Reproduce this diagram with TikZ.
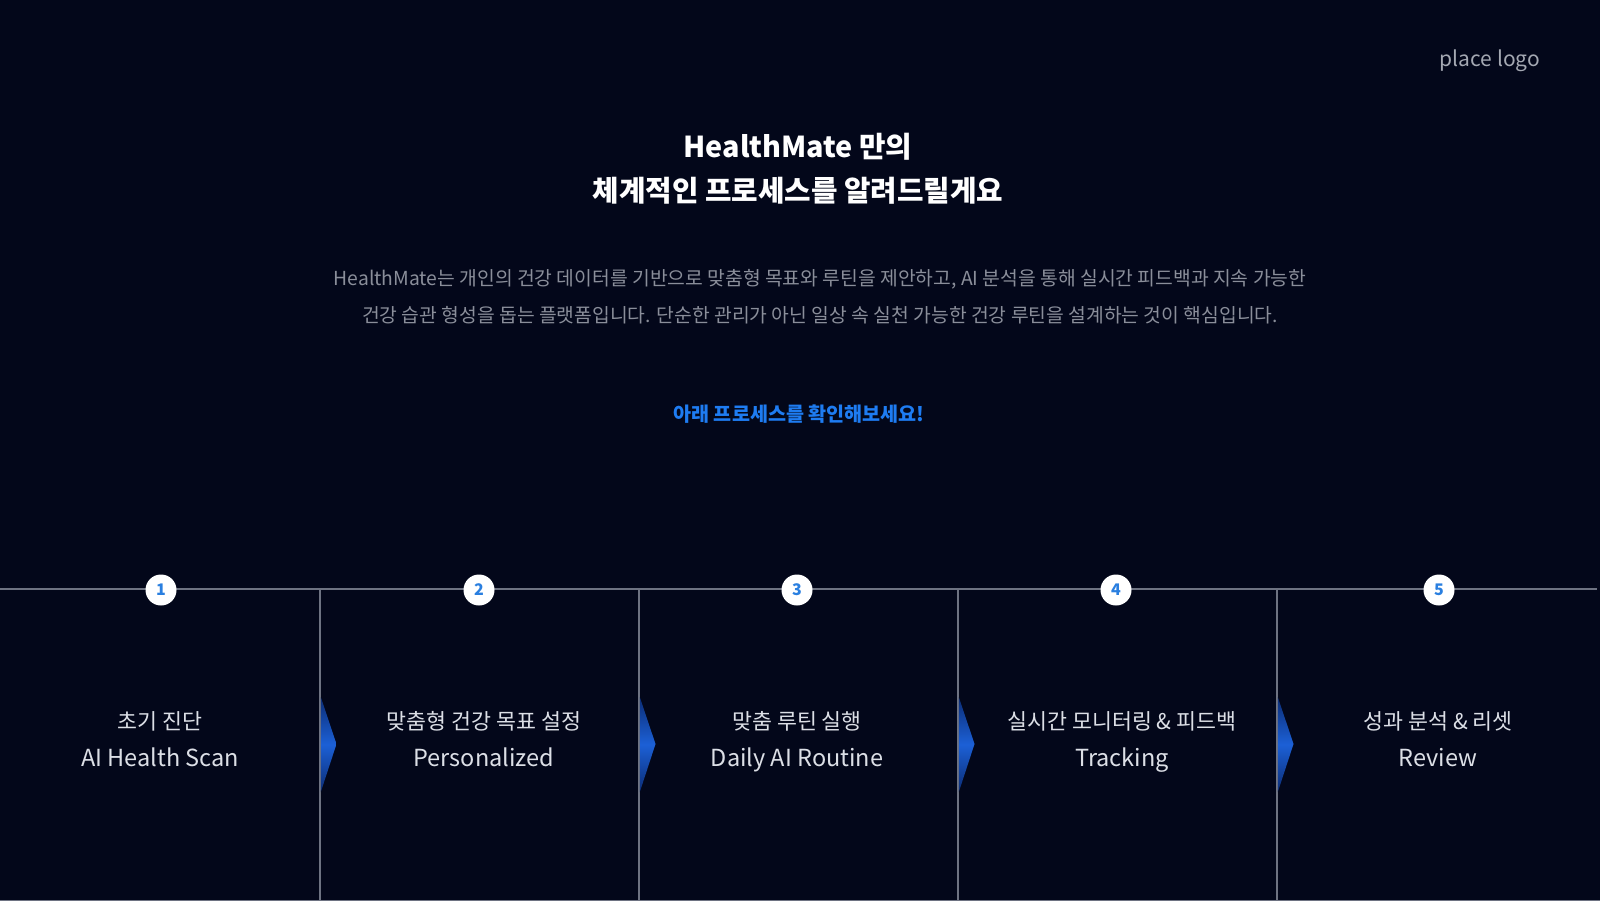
\documentclass[tikz,border=0pt]{standalone}
\usepackage{fontspec}
\setmainfont{Noto Sans CJK KR}
\definecolor{bg}{HTML}{03071A}
\definecolor{paragray}{HTML}{8A8E9A}
\definecolor{logogray}{HTML}{A4A8B2}
\definecolor{accent}{HTML}{1E7CF2}
\definecolor{linegray}{HTML}{6E7382}
\definecolor{steptext}{HTML}{DCDFE6}
\definecolor{numblue}{HTML}{2A7FE0}
\definecolor{chevmid}{HTML}{1C60D6}
\definecolor{chevdark}{HTML}{0B2C74}
\newcommand{\kline}[1]{{\fontsize{21.7}{37}\selectfont #1}\strut}
\newcommand{\eline}[1]{#1\strut}
\tikzset{
  tline/.style={draw=linegray, line width=1.2pt},
  numc/.style={circle, fill=white, minimum size=31pt, inner sep=0pt, text=numblue, font=\bfseries\fontsize{16}{16}\selectfont},
  steptxt/.style={align=center, text=steptext, inner sep=0pt, font=\fontsize{23.5}{37}\selectfont},
  chev/.style={top color=chevdark, bottom color=chevdark, middle color=chevmid}
}
\begin{document}
\begin{tikzpicture}[x=1pt,y=-1pt]
\fill[bg] (0,0) rectangle (1600,901);
\useasboundingbox (0,0) rectangle (1600,901);

\node[text=logogray, font=\fontsize{21}{21}\selectfont] (logo) at (1490,61) {place logo};

\node[text=white, align=center, font=\bfseries\fontsize{28.8}{44}\selectfont] (title) at (798,168.5) {HealthMate 만의\\체계적인 프로세스를 알려드릴게요};

\node[text=paragray, align=center, font=\fontsize{19.3}{37}\selectfont] (para) at (820,297) {HealthMate는 개인의 건강 데이터를 기반으로 맞춤형 목표와 루틴을 제안하고, AI 분석을 통해 실시간 피드백과 지속 가능한\\건강 습관 형성을 돕는 플랫폼입니다. 단순한 관리가 아닌 일상 속 실천 가능한 건강 루틴을 설계하는 것이 핵심입니다.};

\node[text=accent, font=\bfseries\fontsize{19.6}{19.6}\selectfont] (cta) at (799,414) {아래 프로세스를 확인해보세요!};

% timeline
\coordinate (tl) at (0,589);
\coordinate (tr) at (1597,589);
\draw[tline] (tl) -- (tr);
\coordinate (bl) at (0,900.4);
\coordinate (br) at (1600,900.4);
\draw[draw=linegray, line width=1pt] (bl) -- (br);

% dividers and chevrons
\foreach \x/\n in {320/a,639/b,958/c,1277/d}{
  \coordinate (dt\n) at (\x,589);
  \coordinate (db\n) at (\x,901);
  \draw[tline] (dt\n) -- (db\n);
  \shade[chev] (\x+0.8,697) -- (\x+16.5,744) -- (\x+0.8,792) -- cycle;
}

% numbered circles
\node[numc] (c1) at (161,590) {1};
\node[numc] (c2) at (479,590) {2};
\node[numc] (c3) at (797,590) {3};
\node[numc] (c4) at (1116,590) {4};
\node[numc] (c5) at (1439,590) {5};

% step texts
\node[steptxt] (s1) at (160,740.5) {\kline{초기 진단}\\\eline{AI Health Scan}};
\node[steptxt] (s2) at (484,740.5) {\kline{맞춤형 건강 목표 설정}\\\eline{Personalized}};
\node[steptxt] (s3) at (797,740.5) {\kline{맞춤 루틴 실행}\\\eline{Daily AI Routine}};
\node[steptxt] (s4) at (1122,740.5) {\kline{실시간 모니터링 \& 피드백}\\\eline{Tracking}};
\node[steptxt] (s5) at (1438,740.5) {\kline{성과 분석 \& 리셋}\\\eline{Review}};
\end{tikzpicture}
\end{document}
